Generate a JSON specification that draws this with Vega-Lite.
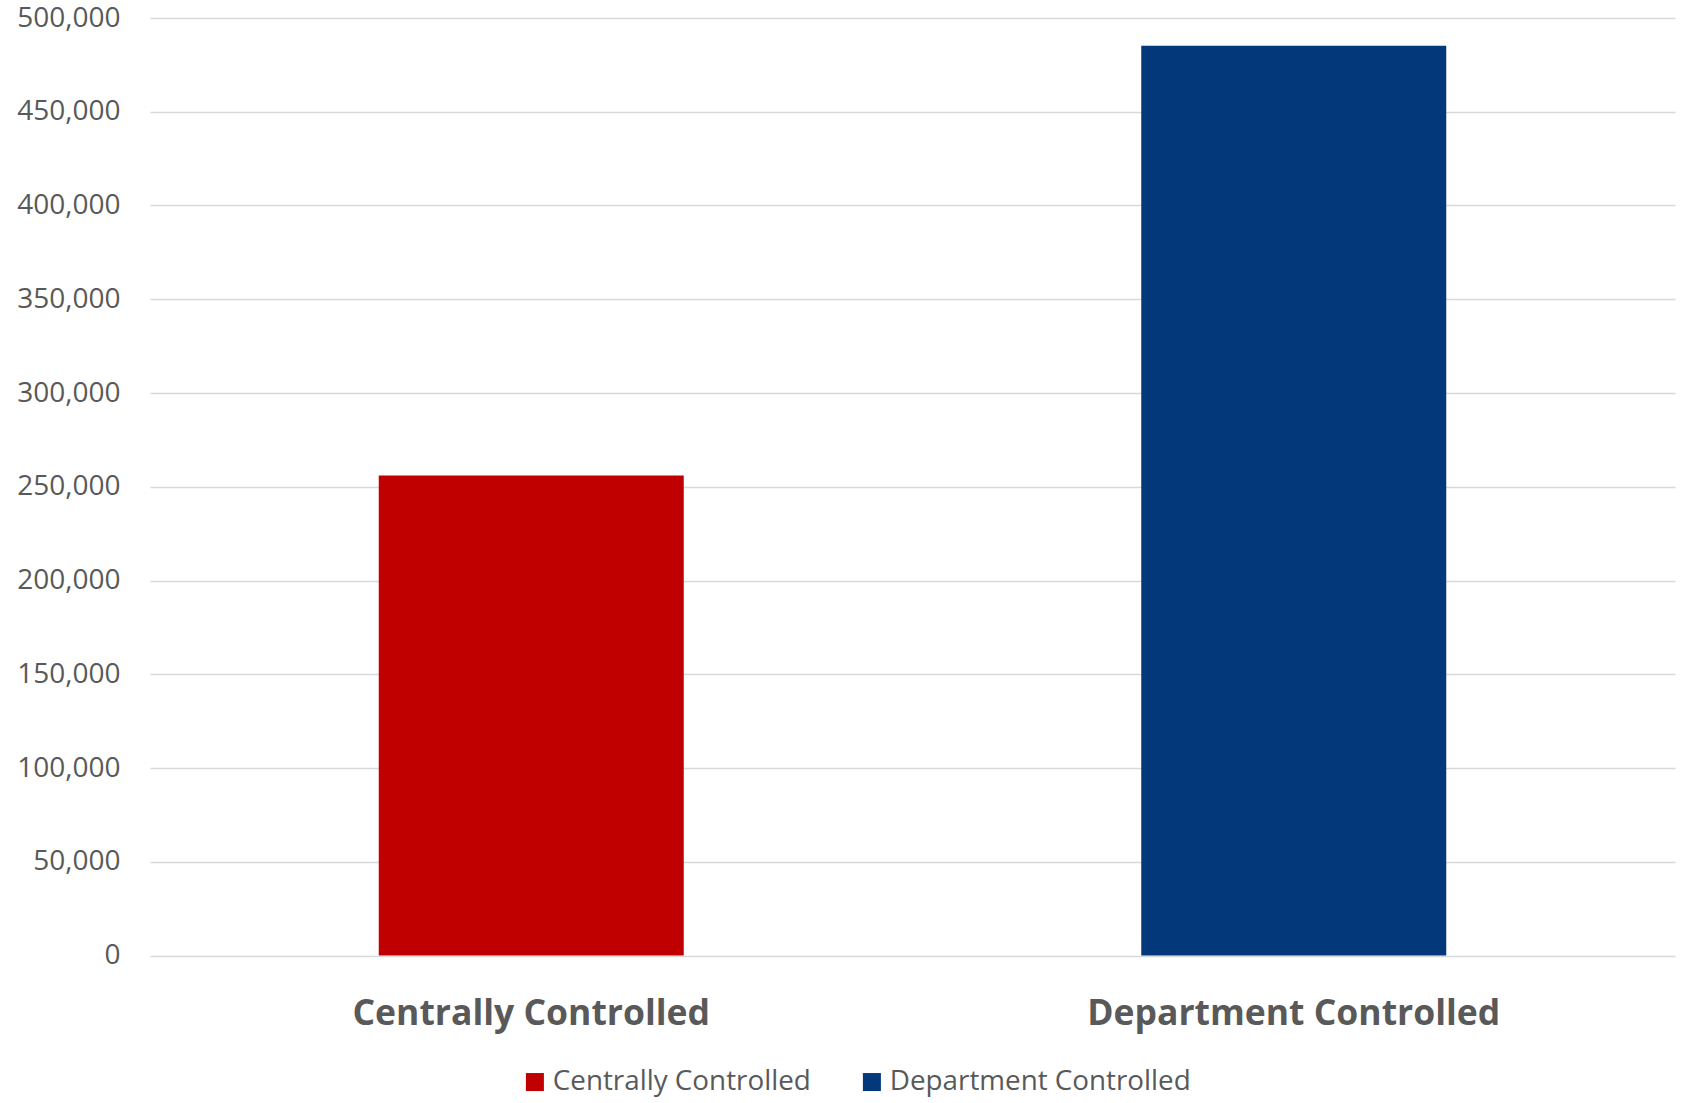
{
  "$schema": "https://vega.github.io/schema/vega-lite/v6.json",
  "autosize": {"type": "none"},
  "width": 1525,
  "height": 937.5,
  "padding": {"left": 150, "top": 18, "right": 8, "bottom": 147},
  "background": "white",
  "data": {
    "values": [
      {"category": "Centrally Controlled", "value": 256000},
      {"category": "Department Controlled", "value": 485200}
    ]
  },
  "mark": {"type": "bar"},
  "encoding": {
    "x": {
      "field": "category",
      "type": "nominal",
      "sort": null,
      "scale": {"paddingInner": 0.6, "paddingOuter": 0.3},
      "axis": {
        "title": null,
        "labelAngle": 0,
        "domain": false,
        "ticks": false,
        "tickSize": 0,
        "labelPadding": 40.5,
        "labelLimit": 0,
        "labelFont": "Open Sans",
        "labelFontWeight": "bold",
        "labelFontSize": 35.5,
        "labelColor": "#595959"
      }
    },
    "y": {
      "field": "value",
      "type": "quantitative",
      "scale": {"domain": [0, 500000], "nice": false},
      "axis": {
        "title": null,
        "values": [0, 50000, 100000, 150000, 200000, 250000, 300000, 350000, 400000, 450000, 500000],
        "format": ",.0f",
        "domain": false,
        "ticks": false,
        "tickSize": 0,
        "labelPadding": 30,
        "labelFont": "Open Sans",
        "labelFontSize": 28,
        "labelColor": "#595959",
        "gridColor": "#d9d9d9",
        "gridWidth": 1.5
      }
    },
    "color": {
      "field": "category",
      "type": "nominal",
      "scale": {"domain": ["Centrally Controlled", "Department Controlled"], "range": ["#C00000", "#03387A"]},
      "legend": {
        "title": null,
        "orient": "none",
        "direction": "horizontal",
        "legendX": 371,
        "legendY": 1050,
        "symbolType": "square",
        "symbolSize": 324,
        "symbolStrokeWidth": 0,
        "labelFont": "Open Sans",
        "labelFontSize": 27.8,
        "labelColor": "#595959",
        "labelOffset": 4,
        "columnPadding": 47,
        "labelLimit": 0
      }
    }
  },
  "config": {
    "view": {"stroke": null}
  }
}
